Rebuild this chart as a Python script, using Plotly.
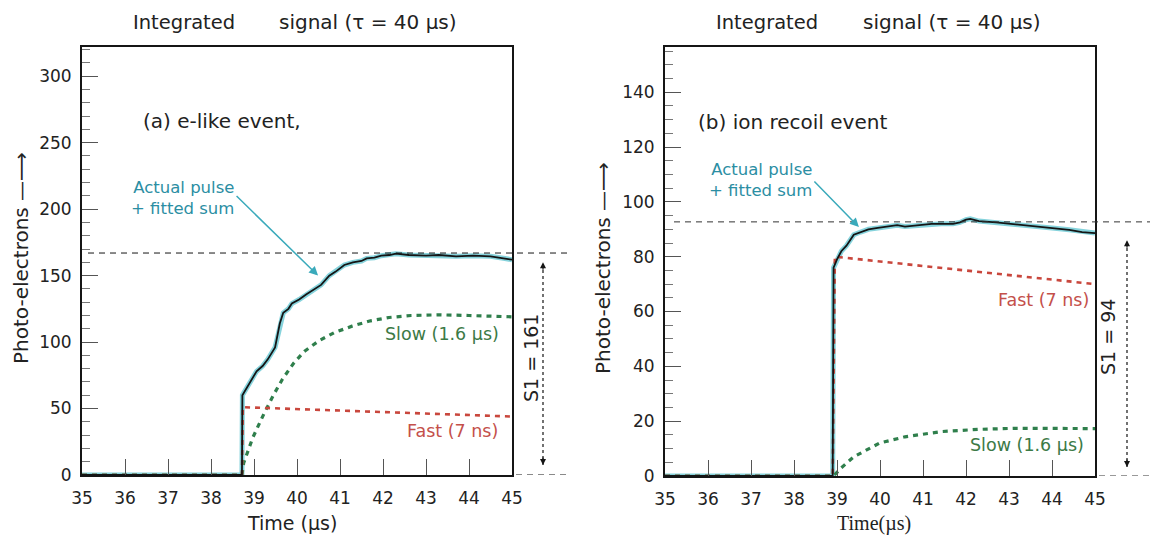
import plotly.graph_objects as go

W, H = 1150, 539

# ---------------- data ----------------
# Panel (a): e-like event
t_a_pulse = [35, 38.72, 38.73, 38.8, 38.92, 39.06, 39.2, 39.32, 39.49, 39.55, 39.6, 39.68, 39.8,
             39.88, 40.05, 40.22, 40.4, 40.56, 40.75, 40.9, 41.1, 41.3, 41.5, 41.62, 41.8, 41.96,
             42.15, 42.3, 42.6, 43.0, 43.3, 43.7, 44.1, 44.5, 44.8, 45.0]
pulse_a = [0, 0, 60, 64, 71, 78, 82, 87, 96, 105, 114, 122, 125,
           129, 132, 136, 140, 143, 150, 153, 158, 160, 161, 163, 163.5, 165,
           165.5, 166.5, 165.5, 165, 165.5, 164.5, 165, 164.5, 163, 162]
t_a_slow = [35, 38.72, 38.76, 38.97, 39.23, 39.45, 39.66, 39.92, 40.17, 40.51, 40.86, 41.28,
            41.71, 42.14, 42.65, 43.3, 44.0, 44.5, 45.0]
slow_a = [0, 0, 9, 28, 46, 60, 72, 84, 93, 101, 107, 112,
          116, 118.5, 120, 120.5, 120, 119.5, 119]
t_a_fast = [35, 38.72, 38.74, 45.0]
fast_a = [0, 0, 51, 44]
peak_a = 167
s1_a = "S1 = 161"

# Panel (b): ion recoil event
t_b_pulse = [35, 38.9, 38.92, 39.0, 39.1, 39.22, 39.39, 39.55, 39.73, 39.95, 40.16, 40.4, 40.58,
             40.9, 41.2, 41.43, 41.7, 41.86, 42.0, 42.1, 42.3, 42.7, 43.0, 43.56, 44.0, 44.4,
             44.7, 45.0]
pulse_b = [0, 0, 76, 79, 82, 84, 88, 89, 90, 90.5, 91, 91.5, 91,
           91.5, 92, 92, 92, 92.5, 93.5, 93.8, 93, 92.5, 92, 91, 90.5, 89.8,
           89, 88.6]
t_b_slow = [35, 38.92, 39.1, 39.39, 39.99, 40.58, 41.43, 42.28, 43.14, 44.0, 45.0]
slow_b = [0, 0, 3, 7, 12, 14.3, 16.2, 17, 17.4, 17.4, 17.3]
t_b_fast = [35, 38.9, 38.95, 45.0]
fast_b = [0, 0, 80, 70]
peak_b = 92.7
s1_b = "S1 = 94"

x_ticks = [35, 36, 37, 38, 39, 40, 41, 42, 43, 44, 45]

# ---------------- styles ----------------
FONT = "DejaVu Sans, Arial, sans-serif"
SERIF = "Liberation Serif, Times New Roman, serif"
BLACK = "#151515"
CYAN = "#86d3dc"
GREEN = "#2f7f4c"
RED = "#c9473d"
TEAL_TXT = "#2b8ea3"
GREEN_TXT = "#3c7a46"
RED_TXT = "#c4504a"


def px(x):
    return x / W


def py(y):
    return 1 - y / H


fig = go.Figure()

for xa, ya, tp, pp, ts, ss, tf, ff in [
    ("x", "y", t_a_pulse, pulse_a, t_a_slow, slow_a, t_a_fast, fast_a),
    ("x2", "y2", t_b_pulse, pulse_b, t_b_slow, slow_b, t_b_fast, fast_b),
]:
    fig.add_trace(go.Scatter(x=tp, y=pp, xaxis=xa, yaxis=ya, mode="lines",
                             line=dict(color=CYAN, width=5), hoverinfo="skip"))
    fig.add_trace(go.Scatter(x=ts, y=ss, xaxis=xa, yaxis=ya, mode="lines",
                             line=dict(color=GREEN, width=3.2, dash="5px,5px"), hoverinfo="skip"))
    fig.add_trace(go.Scatter(x=tf, y=ff, xaxis=xa, yaxis=ya, mode="lines",
                             line=dict(color=RED, width=2.6, dash="5px,5px"), hoverinfo="skip"))
    fig.add_trace(go.Scatter(x=tp, y=pp, xaxis=xa, yaxis=ya, mode="lines",
                             line=dict(color=BLACK, width=1.8), hoverinfo="skip"))

common_x = dict(range=[35, 45], tickvals=x_ticks, ticks="inside", ticklen=16, tickwidth=1,
                tickcolor="#555", showline=True, mirror=True, linecolor=BLACK, linewidth=2,
                showgrid=False, zeroline=False, automargin=False, ticklabelstandoff=7,
                tickfont=dict(family=FONT, size=17, color="#222"))
common_y = dict(ticks="inside", ticklen=16, tickwidth=1, tickcolor="#555",
                showline=True, mirror=True, linecolor=BLACK, linewidth=2,
                showgrid=False, zeroline=False, automargin=False, ticklabelstandoff=5,
                tickfont=dict(family=FONT, size=17, color="#222"))

fig.update_layout(
    width=W, height=H, autosize=False,
    margin=dict(l=0, r=0, t=0, b=0),
    paper_bgcolor="white", plot_bgcolor="white",
    showlegend=False,
    xaxis=dict(domain=[px(82), px(512)], anchor="y", **common_x),
    yaxis=dict(domain=[py(475), py(47)], anchor="x", range=[0, 322], dtick=50,
               minor=dict(ticks="inside", ticklen=8, dtick=10, tickcolor="#777"), **common_y),
    xaxis2=dict(domain=[px(665), px(1095)], anchor="y2", **common_x),
    yaxis2=dict(domain=[py(476), py(47)], anchor="x2", range=[0, 156.5], dtick=20,
                minor=dict(ticks="inside", ticklen=8, dtick=5, tickcolor="#777"), **common_y),
)

shapes = []
# dashed reference lines
shapes.append(dict(type="line", xref="paper", yref="y", x0=px(88), x1=px(570), y0=peak_a, y1=peak_a,
                   line=dict(color=BLACK, width=1, dash="6px,5px")))
shapes.append(dict(type="line", xref="paper", yref="y", x0=px(516), x1=px(570), y0=0, y1=0,
                   line=dict(color=BLACK, width=1, dash="6px,5px")))
shapes.append(dict(type="line", xref="paper", yref="y2", x0=px(674), x1=px(1150), y0=peak_b, y1=peak_b,
                   line=dict(color="#333", width=1, dash="6px,5px")))
shapes.append(dict(type="line", xref="paper", yref="y2", x0=px(1099), x1=px(1150), y0=0, y1=0,
                   line=dict(color="#333", width=1, dash="6px,5px")))
# dotted S1 arrows
shapes.append(dict(type="line", xref="paper", yref="y", x0=px(543), x1=px(543), y0=7.5, y1=160,
                   line=dict(color=BLACK, width=1.2, dash="dot")))
shapes.append(dict(type="line", xref="paper", yref="y2", x0=px(1127), x1=px(1127), y0=3.3, y1=86,
                   line=dict(color=BLACK, width=1.2, dash="dot")))
fig.update_layout(shapes=shapes)

ann = []


def txt(x, y, s, size=16, color="#222", xanchor="center", angle=0, family=FONT, align="center"):
    ann.append(dict(x=px(x), y=py(y), xref="paper", yref="paper", text=s, showarrow=False,
                    xanchor=xanchor, yanchor="middle", textangle=angle, align=align,
                    font=dict(family=family, size=size, color=color)))


# titles
txt(184, 22, "Integrated", 19.5)
txt(368, 22, "signal (τ = 40 µs)", 20)
txt(767, 22, "Integrated", 19.5)
txt(952, 22, "signal (τ = 40 µs)", 20)
# panel labels
txt(141, 121, "(a) e-like event,", 20, xanchor="left")
txt(696, 122, "(b) ion recoil event", 20, xanchor="left")
# actual pulse labels
txt(236, 198, "Actual pulse<br>+ fitted sum", 16.5, TEAL_TXT, xanchor="right", align="right")
txt(814, 180, "Actual pulse<br>+ fitted sum", 16.5, TEAL_TXT, xanchor="right", align="right")
# component labels
txt(501, 334, "Slow (1.6 µs)", 17.5, GREEN_TXT, xanchor="right")
txt(500, 431, "Fast (7 ns)", 17.5, RED_TXT, xanchor="right")
txt(1091, 300, "Fast (7 ns)", 17.5, RED_TXT, xanchor="right")
txt(1086, 445, "Slow (1.6 µs)", 17.5, GREEN_TXT, xanchor="right")
# S1 labels
txt(531, 358, s1_a, 19, "#222", angle=-90)
txt(1108, 337, s1_b, 19, "#222", angle=-90)
# axis titles
txt(21, 258, "Photo-electrons —⟶", 20, "#222", angle=-90)
txt(603, 268, "Photo-electrons —⟶", 20, "#222", angle=-90)
txt(292, 523, "Time (µs)", 19)
txt(874, 523, "Time(µs)", 20, family=SERIF)

# teal pointer arrows
ann.append(dict(x=40.49, y=150, xref="x", yref="y", ax=-83, ay=-81, text="", showarrow=True,
                arrowhead=2, arrowsize=1.2, arrowwidth=1.5, arrowcolor="#3aaabb"))
ann.append(dict(x=39.51, y=90.8, xref="x2", yref="y2", ax=-46, ay=-47, text="", showarrow=True,
                arrowhead=2, arrowsize=1.2, arrowwidth=1.5, arrowcolor="#3aaabb"))
# S1 arrow heads
for yref, xp, ytop, ybot in [("y", 543, 160, 7.5), ("y2", 1127, 86, 3.3)]:
    ann.append(dict(x=px(xp), y=ytop, xref="paper", yref=yref, ax=0, ay=9, text="", showarrow=True,
                    arrowhead=2, arrowsize=1, arrowwidth=1.2, arrowcolor=BLACK))
    ann.append(dict(x=px(xp), y=ybot, xref="paper", yref=yref, ax=0, ay=-9, text="", showarrow=True,
                    arrowhead=2, arrowsize=1, arrowwidth=1.2, arrowcolor=BLACK))

fig.update_layout(annotations=ann)

fig.write_html("out.html")
